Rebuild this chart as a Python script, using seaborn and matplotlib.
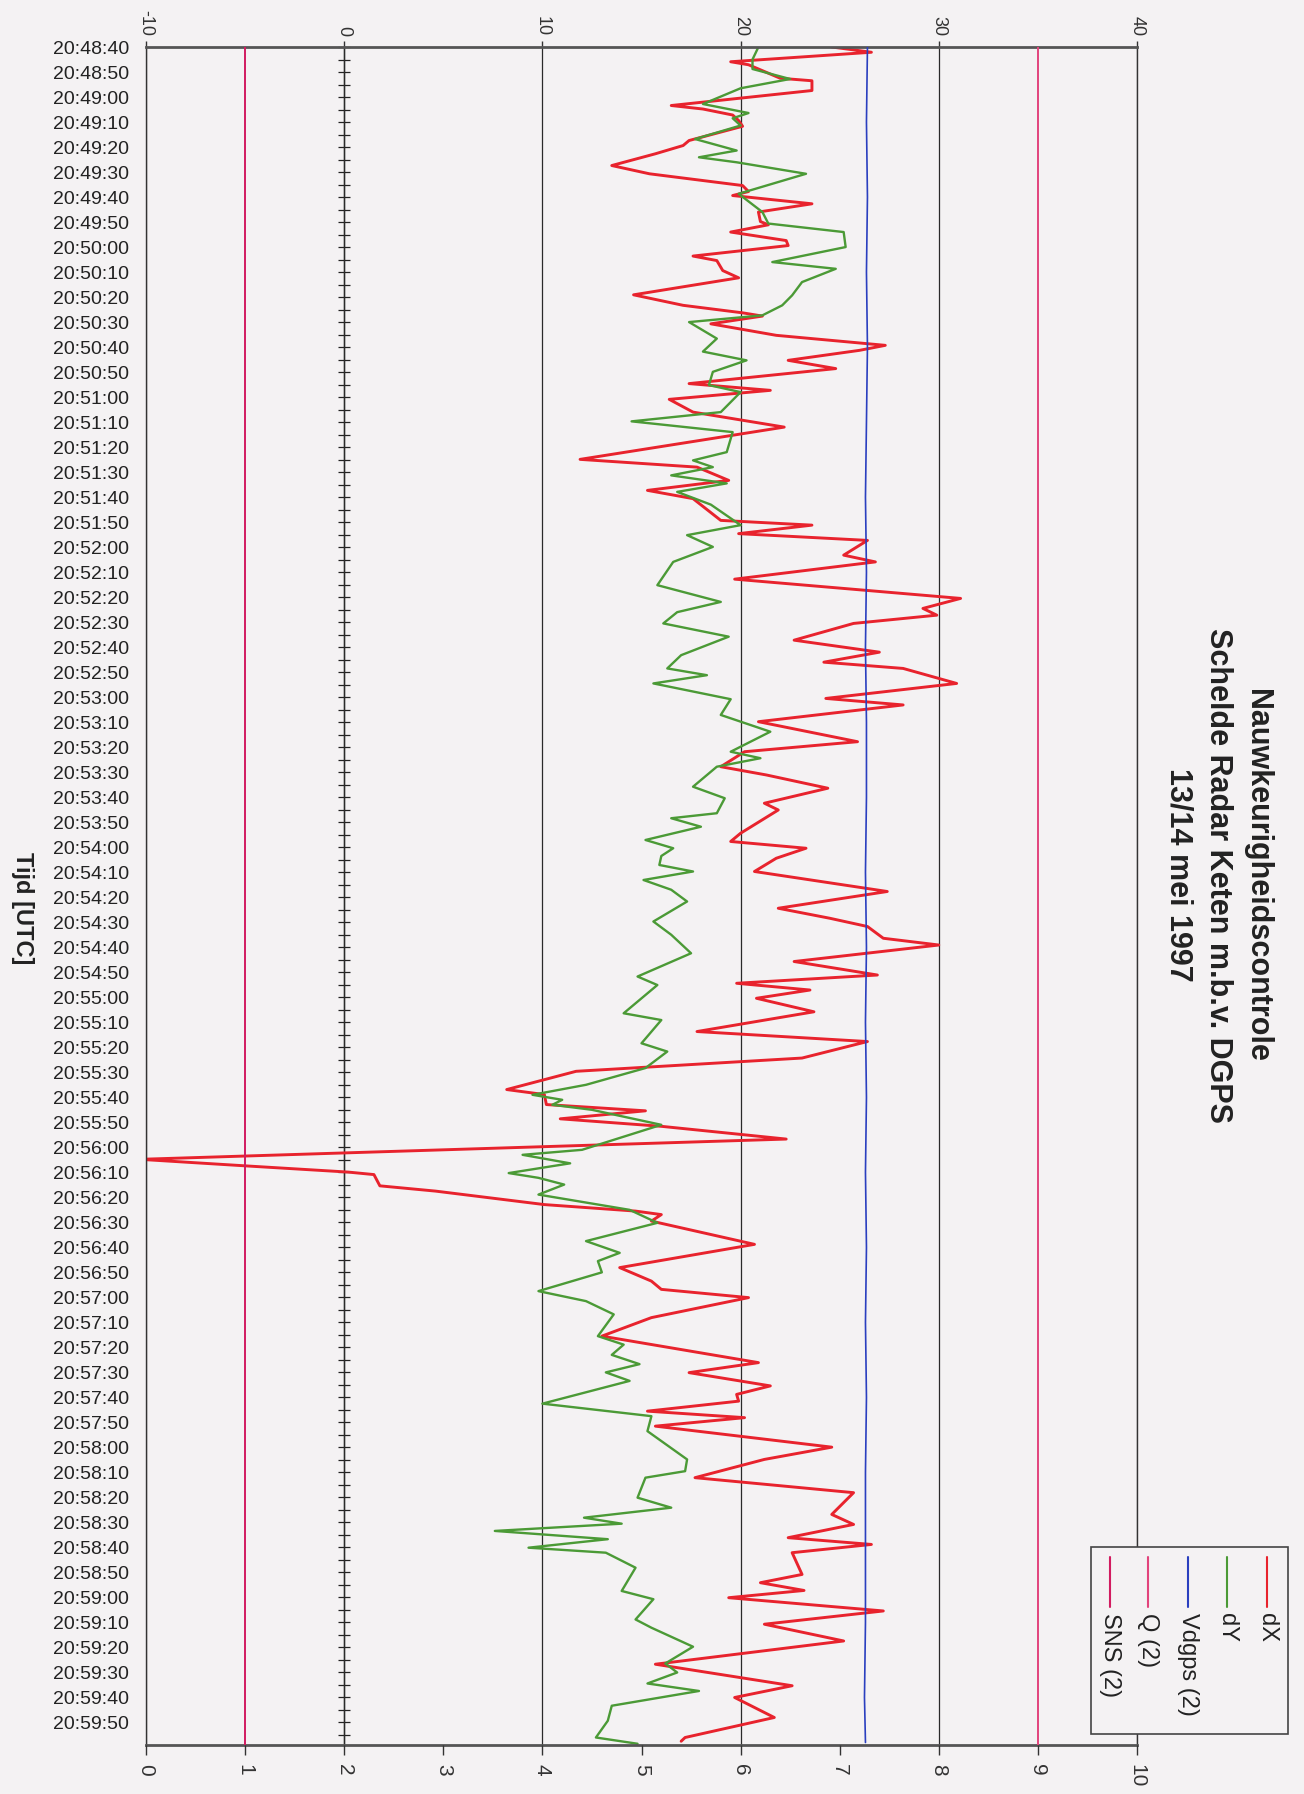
import numpy as np
import pandas as pd
import matplotlib
matplotlib.use('Agg')
import matplotlib.pyplot as plt
import seaborn as sns
from matplotlib.lines import Line2D
from matplotlib.patches import Rectangle

# Data: seconds since 20:48:40 and values
DX_T = [0, 2.1, 5.9, 7.1, 12.5, 13.5, 17.4, 23.4, 24.8, 27.2, 29.4, 31.7, 37.4, 39.4,
        42.7, 47.4, 50.7, 55.4, 57.8, 59.4, 62.7, 66.0, 69.8, 71.1, 74.0, 77.4, 79.4,
        83.6, 85.4, 89.4, 92.3, 99.1, 103.3, 106.3, 107.6, 110.7, 115.3, 119.3, 121.3,
        125.3, 128.6, 134.6, 137.3, 140.9, 146.0, 152.0, 164.9, 168.0, 173.3, 177.3,
        180.6, 189.3, 191.2, 194.6, 197.3, 203.2, 205.9, 212.8, 220.5, 224.5, 227.2,
        230.5, 237.2, 242.0, 246.0, 248.5, 254.5, 260.5, 263.1, 269.8, 277.8, 281.8,
        287.8, 291.1, 296.4, 302.4, 305.1, 314.4, 317.7, 320.4, 324.4, 329.7, 337.7,
        344.4, 348.4, 351.7, 356.4, 359.1, 365.7, 371.1, 374.4, 377.1, 380.4, 385.8,
        393.7, 397.7, 404.3, 409.6, 416.9, 418.9, 422.9, 425.4, 428.6, 431.6, 436.7,
        444.8, 447.5, 449.9, 450.9, 455.4, 457.5, 462.9, 465.5, 466.9, 469.5, 478.8,
        488.1, 493.5, 496.8, 500.1, 508.1, 515.5, 526.1, 530.1, 535.4, 538.8, 541.5,
        545.5, 548.1, 551.5, 559.9, 564.8, 572.1, 578.1, 586.8, 590.8, 596.1, 598.8,
        602.1, 610.8, 614.1, 617.2, 620.1, 625.4, 630.7, 637.4, 646.7, 655.3, 660.0,
        668.0, 676.0, 677.5]
DX_V = [24.6, 26.6, 19.5, 20.4, 22.0, 23.6, 23.6, 16.5, 18.1, 19.6, 19.9, 20.1, 17.4, 17.1,
        15.7, 13.5, 15.4, 20.1, 20.4, 19.6, 23.6, 20.9, 21.0, 21.4, 19.5, 22.3, 22.4,
        17.6, 18.8, 19.1, 19.9, 14.6, 17.1, 20.1, 21.1, 18.5, 21.8, 27.3, 26.0,
        22.4, 24.8, 17.4, 21.5, 16.4, 17.6, 22.2, 11.9, 17.8, 19.4, 15.3,
        17.6, 19.0, 23.6, 19.9, 26.4, 25.2, 26.8, 19.7, 31.1, 29.2, 29.9,
        25.7, 22.7, 27.0, 24.2, 28.2, 30.9, 24.3, 28.2, 20.9, 25.9, 20.2,
        19.0, 21.3, 24.4, 21.2, 21.9, 20.0, 19.5, 23.3, 21.8, 20.7, 27.4,
        21.9, 24.5, 26.4, 27.2, 30.0, 22.7, 26.9, 19.8, 23.5, 20.8, 23.7,
        17.8, 26.4, 23.1, 11.7, 8.2, 10.1, 10.2, 15.2, 10.9, 16.0, 22.3,
        -10.3, -4.8, 0.2, 1.5, 1.8, 4.6, 10.1, 14.7, 16.0, 15.5, 20.7,
        13.9, 15.5, 16.0, 20.4, 15.5, 13.0, 20.9, 17.4, 21.5, 19.8, 19.9,
        15.3, 20.2, 15.7, 24.6, 21.2, 17.7, 25.7, 24.6, 25.7, 22.4, 26.6,
        22.6, 23.1, 21.0, 23.2, 19.4, 27.2, 21.2, 25.2, 15.7, 22.6, 19.7,
        21.7, 17.2, 17.0]

DY_T = [0, 5.0, 8.8, 12.8, 16.5, 22.8, 26.4, 28.5, 31.4, 36.8, 41.4, 44.1, 46.1, 50.7,
        55.4, 58.7, 66.0, 70.6, 74.0, 80.0, 86.0, 88.7, 94.0, 99.3, 103.3, 107.3, 110.0,
        116.6, 121.8, 125.3, 129.9, 135.2, 138.0, 146.0, 149.7, 154.0, 162.0, 165.3,
        168.0, 171.3, 174.5, 177.9, 183.0, 191.2, 195.2, 199.9, 205.9, 215.2, 221.9,
        226.0, 230.5, 235.8, 243.2, 248.5, 251.2, 254.5, 260.8, 267.1, 273.8, 281.8,
        284.4, 287.8, 295.8, 300.4, 306.4, 308.4, 311.8, 317.1, 320.4, 323.5, 327.1,
        329.7, 333.1, 337.0, 341.7, 349.7, 355.0, 362.4, 371.7, 375.1, 380.4, 386.4,
        389.1, 398.4, 401.7, 408.3, 415.0, 419.0, 421.0, 423.0, 425.0, 431.0, 436.0,
        441.0, 443.0, 446.4, 450.3, 452.2, 454.9, 458.9, 465.0, 470.2, 477.5, 482.2,
        485.5, 490.0, 497.5, 501.5, 506.8, 515.5, 518.9, 523.0, 526.7, 530.0, 533.4,
        542.5, 547.5, 553.5, 564.8, 569.5, 572.1, 580.1, 584.1, 588.1, 590.5, 593.4,
        596.7, 600.1, 602.1, 608.1, 617.4, 620.7, 628.8, 632.1, 639.7, 646.4, 650.0,
        654.4, 657.4, 663.3, 669.3, 676.0, 678.5]
DY_V = [20.9, 20.6, 20.6, 22.5, 20.0, 18.1, 20.4, 19.6, 20.0, 17.7, 19.8, 17.9, 19.8, 23.3,
        21.3, 19.9, 21.1, 21.4, 25.2, 25.3, 21.6, 24.8, 23.1, 22.6, 22.1, 21.1, 17.4,
        18.8, 18.1, 20.3, 18.6, 18.4, 20.0, 19.0, 14.5, 19.6, 19.3, 17.6,
        18.6, 16.5, 19.3, 16.8, 18.5, 20.0, 17.3, 18.6, 16.6, 15.8, 19.0,
        16.8, 16.1, 19.4, 17.0, 16.3, 18.3, 15.6, 19.5, 19.0, 21.5, 19.5,
        21.0, 18.8, 17.6, 19.2, 18.8, 16.5, 18.0, 15.2, 16.6, 16.0, 15.9,
        17.6, 15.1, 16.5, 17.3, 15.6, 16.5, 17.5, 14.8, 15.8, 15.0, 14.1,
        16.0, 15.0, 16.3, 15.2, 12.2, 9.5, 11.0, 10.5, 12.5, 16.0, 14.0,
        12.0, 9.0, 11.4, 8.3, 9.8, 11.1, 9.8, 14.4, 15.8, 12.2, 13.9,
        12.8, 13.0, 9.8, 12.2, 13.6, 12.8, 14.1, 13.5, 14.9, 13.2, 14.4,
        10.0, 15.5, 15.3, 17.3, 17.2, 15.2, 14.8, 16.5, 12.1, 14.0, 7.6,
        13.3, 9.3, 13.2, 14.7, 14.0, 15.6, 14.7, 15.5, 17.6, 16.2, 16.8,
        15.3, 17.9, 13.5, 13.3, 12.7, 14.8]

# secondary axis series (0..10 scale)
VDGPS_T = [0, 30, 60, 90, 120, 150, 180, 210, 240, 270, 300, 330, 360, 390, 420, 450,
           480, 510, 540, 570, 600, 630, 660, 678]
VDGPS_V = [7.28, 7.27, 7.28, 7.27, 7.28, 7.27, 7.26, 7.27, 7.26, 7.27, 7.27, 7.26, 7.27,
           7.26, 7.27, 7.26, 7.27, 7.26, 7.27, 7.26, 7.26, 7.26, 7.25, 7.26]
Q_LEVEL = 9.0
SNS_LEVEL = 1.0

TITLE_LINES = ['Nauwkeurigheidscontrole', 'Schelde Radar Keten m.b.v. DGPS', '13/14 mei 1997']
LEGEND_LABELS = ['dX', 'dY', 'Vdgps (2)', 'Q (2)', 'SNS (2)']
TIME_LABELS = pd.date_range('2000-01-01 20:48:40', periods=68, freq='10s').strftime('%H:%M:%S')

BG = '#f4f2f3'
RED = '#e8232d'
GREEN = '#4b9a36'
BLUE = '#2a3fbf'
PINK = '#e2447c'
CRIMSON = '#d21c60'

W_PX, H_PX = 1304, 1794


def fx(px):
    return px / W_PX


def fy(py):
    return 1 - py / H_PX


sns.set_theme(style='white')
plt.rcParams['font.family'] = ['Liberation Sans', 'DejaVu Sans']

fig = plt.figure(figsize=(W_PX / 100, H_PX / 100), dpi=100, facecolor=BG)
ax = fig.add_axes([fx(146), fy(1745), fx(1137) - fx(146), fy(47) - fy(1745)])
ax.set_facecolor(BG)

# secondary axis (0..10) at bottom; twiny moves ax ticks, so build it first
ax2 = ax.twiny()

ax.set_xlim(-10, 40)
ax.set_ylim(679, 0)

# primary series
sns.lineplot(x=DX_V, y=DX_T, sort=False, estimator=None, ax=ax, color=RED, lw=2.1, legend=False)
sns.lineplot(x=DY_V, y=DY_T, sort=False, estimator=None, ax=ax, color=GREEN, lw=1.7, legend=False)

# value axis at top
ax.xaxis.tick_top()
ax.xaxis.set_label_position('top')
ax.set_xticks(range(-10, 41, 10))
ax.set_xticklabels([str(v) for v in range(-10, 41, 10)], rotation=-90, fontsize=13)
ax.tick_params(axis='x', which='both', top=True, bottom=False, labeltop=True, labelbottom=False,
               direction='out', length=4, width=1, pad=4, colors='#333333')
ax.xaxis.grid(True, color='#2a2a2a', lw=0.9)
ax.set_axisbelow(True)
ax.set_xlabel('')
ax.set_ylabel('')

# time axis
ax.set_yticks(np.arange(0, 671, 10))
ax.set_yticklabels(TIME_LABELS, fontsize=14, color='#222222')
ax.tick_params(axis='y', length=0, pad=12)

for side in ['top', 'bottom']:
    ax.spines[side].set_color('#555555')
    ax.spines[side].set_linewidth(2)
for side in ['left', 'right']:
    ax.spines[side].set_color('#333333')
    ax.spines[side].set_linewidth(1)

# category axis crossing at value 0
zero_axis = ax.secondary_yaxis(0.2)
zero_axis.set_yticks(np.arange(0, 679, 5))
zero_axis.tick_params(direction='inout', length=9, width=0.9, labelleft=False, colors='#222222')
zero_axis.spines['left'].set_color('#222222')
zero_axis.spines['left'].set_linewidth(1)

ax2.set_xlim(0, 10)
ax2.patch.set_visible(False)
for s in ax2.spines.values():
    s.set_visible(False)
ax2.xaxis.set_ticks_position('bottom')
ax2.xaxis.set_label_position('bottom')
ax2.set_xticks(range(0, 11))
ax2.set_xticklabels([str(v) for v in range(0, 11)], rotation=-90, fontsize=15)
ax2.tick_params(axis='x', top=False, bottom=True, labeltop=False, labelbottom=True,
                direction='out', length=7, width=1, pad=7, colors='#333333')

sns.lineplot(x=VDGPS_V, y=VDGPS_T, sort=False, estimator=None, ax=ax2, color=BLUE, lw=1.2, legend=False)
ax2.axvline(Q_LEVEL, color=PINK, lw=1.4)
ax2.axvline(SNS_LEVEL, color=CRIMSON, lw=1.4)
ax2.set_ylim(679, 0)
ax2.set_xlabel('')
ax2.set_ylabel('')

# titles
title_x = [1257, 1218, 1179]
for txt, x in zip(TITLE_LINES, title_x):
    fig.text(fx(x), fy(875), txt, rotation=-90, ha='center', va='center',
             fontsize=22, fontweight='bold', color='#222222')
fig.text(fx(22), fy(908), 'Tijd [UTC]', rotation=-90, ha='center', va='center',
         fontsize=17, fontweight='bold', color='#222222')

# legend drawn rotated like the scan
fig.add_artist(Rectangle((fx(1091), fy(1734)), fx(1288) - fx(1091), fy(1547) - fy(1734),
                         transform=fig.transFigure, facecolor=BG, edgecolor='#444444', lw=1.2))
legend_colors = [RED, GREEN, BLUE, PINK, CRIMSON]
legend_x = [1267, 1227, 1188, 1148, 1110]
for lab, col, x in zip(LEGEND_LABELS, legend_colors, legend_x):
    fig.add_artist(Line2D([fx(x), fx(x)], [fy(1557), fy(1607)], transform=fig.transFigure,
                          color=col, lw=1.5))
    fig.text(fx(x), fy(1613), lab, rotation=-90, ha='center', va='top', fontsize=17,
             color='#222222')

fig.savefig('out.png', dpi=100, facecolor=BG)
